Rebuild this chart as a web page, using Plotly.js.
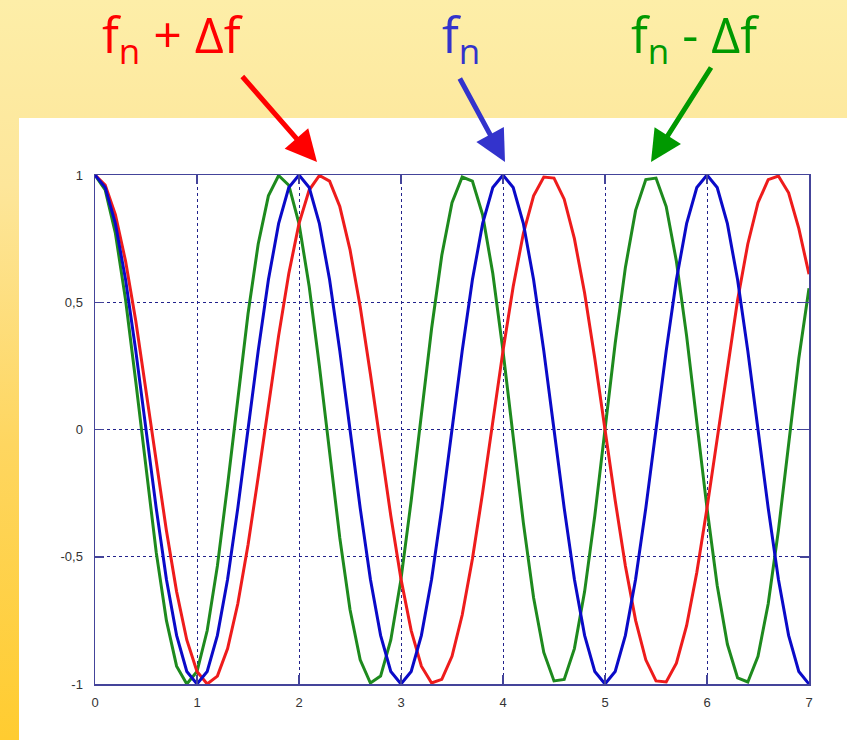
<!DOCTYPE html>
<html>
<head>
<meta charset="utf-8">
<script src="https://cdn.plot.ly/plotly-3.0.1.min.js"></script>
<style>
  html, body { margin: 0; padding: 0; }
  body {
    width: 847px; height: 740px; overflow: hidden;
    background: linear-gradient(to bottom, #fdeea8 0%, #fde69a 25%, #fed660 60%, #ffcc30 100%);
  }
  #chart { width: 847px; height: 740px; }
</style>
</head>
<body>
<div id="chart"></div>
<script>
// sample times, step 0.1 from 0 to 7
const tValues = [0.0,0.1,0.2,0.3,0.4,0.5,0.6,0.7,0.8,0.9,1.0,1.1,1.2,1.3,1.4,1.5,1.6,1.7,1.8,1.9,
  2.0,2.1,2.2,2.3,2.4,2.5,2.6,2.7,2.8,2.9,3.0,3.1,3.2,3.3,3.4,3.5,3.6,3.7,3.8,3.9,
  4.0,4.1,4.2,4.3,4.4,4.5,4.6,4.7,4.8,4.9,5.0,5.1,5.2,5.3,5.4,5.5,5.6,5.7,5.8,5.9,
  6.0,6.1,6.2,6.3,6.4,6.5,6.6,6.7,6.8,6.9,7.0];

// f_n
const blueWave = [1,0.951,0.809,0.588,0.309,0,-0.309,-0.588,-0.809,-0.951,-1,-0.951,-0.809,-0.588,-0.309,0,0.309,0.588,0.809,0.951,
  1,0.951,0.809,0.588,0.309,0,-0.309,-0.588,-0.809,-0.951,-1,-0.951,-0.809,-0.588,-0.309,0,0.309,0.588,0.809,0.951,
  1,0.951,0.809,0.588,0.309,0,-0.309,-0.588,-0.809,-0.951,-1,-0.951,-0.809,-0.588,-0.309,0,0.309,0.588,0.809,0.951,
  1,0.951,0.809,0.588,0.309,0,-0.309,-0.588,-0.809,-0.951,-1];

// f_n + Δf
const redWave = [1,0.960,0.844,0.661,0.426,0.156,-0.125,-0.397,-0.637,-0.827,-0.951,-1.000,-0.969,-0.861,-0.685,-0.454,-0.187,0.094,0.368,0.613,
  0.809,0.941,0.998,0.976,0.876,0.707,0.482,0.218,-0.063,-0.339,-0.588,-0.790,-0.930,-0.996,-0.982,-0.891,-0.729,-0.509,-0.249,0.031,
  0.309,0.562,0.771,0.918,0.992,0.988,0.905,0.750,0.536,0.279,0,-0.279,-0.536,-0.750,-0.905,-0.988,-0.992,-0.918,-0.771,-0.562,
  -0.309,-0.031,0.249,0.509,0.729,0.891,0.982,0.996,0.930,0.790,0.610];

// f_n - Δf
const greenWave = [1,0.941,0.771,0.509,0.187,-0.156,-0.482,-0.750,-0.930,-1.000,-0.951,-0.790,-0.536,-0.218,0.125,0.454,0.729,0.918,0.998,0.960,
  0.809,0.562,0.249,-0.094,-0.426,-0.707,-0.905,-0.996,-0.969,-0.827,-0.588,-0.279,0.063,0.397,0.685,0.891,0.992,0.976,0.844,0.613,
  0.309,-0.031,-0.368,-0.661,-0.876,-0.988,-0.982,-0.861,-0.637,-0.339,0,0.339,0.637,0.861,0.982,0.988,0.876,0.661,0.368,0.031,
  -0.309,-0.613,-0.844,-0.976,-0.992,-0.891,-0.685,-0.397,-0.063,0.279,0.555];

const xTicks = [0,1,2,3,4,5,6,7];
const yTicks = [-1,-0.5,0,0.5,1];
const yTickText = ['-1','-0,5','0','0,5','1'];

const waveColors = { blue: '#0a0ac8', red: '#ee1c1c', green: '#1e8a1e' };

const traces = [
  { x: tValues, y: greenWave, mode: 'lines', line: { color: waveColors.green, width: 3 }, hoverinfo: 'skip' },
  { x: tValues, y: redWave, mode: 'lines', line: { color: waveColors.red, width: 3 }, hoverinfo: 'skip' },
  { x: tValues, y: blueWave, mode: 'lines', line: { color: waveColors.blue, width: 3 }, hoverinfo: 'skip' }
];

// plot area spans 95..809 px horizontally and 175..684 px vertically
const L = 95, R = 809, T = 175, B = 684;
const px = v => (v - L) / (R - L);
const py = v => (B - v) / (B - T);

const labelFont = { family: 'Open Sans, sans-serif', size: 50 };

const axisCommon = {
  showline: true, mirror: 'ticks', linecolor: '#44449a', linewidth: 1.5,
  ticks: 'inside', ticklen: 9, tickcolor: '#44449a', tickwidth: 1.5,
  showgrid: true, gridcolor: '#22228c', gridwidth: 1, griddash: '3px,3px',
  zeroline: false, fixedrange: true,
  tickfont: { family: 'Liberation Sans, Arial, sans-serif', size: 13, color: '#333333' }
};

const arrowBase = { xref: 'paper', yref: 'paper', text: '', showarrow: true,
  arrowhead: 2, arrowsize: 1.25, arrowwidth: 5, standoff: 0 };

const layout = {
  width: 847, height: 740,
  margin: { l: L, r: 847 - R, t: T, b: 740 - B, pad: 0 },
  paper_bgcolor: 'rgba(0,0,0,0)',
  plot_bgcolor: '#ffffff',
  showlegend: false,
  xaxis: Object.assign({}, axisCommon, {
    range: [0, 7], tickvals: xTicks, ticktext: xTicks.map(String), ticklabelstandoff: 6
  }),
  yaxis: Object.assign({}, axisCommon, {
    range: [-1, 1], tickvals: yTicks, ticktext: yTickText, ticklabelstandoff: 8
  }),
  shapes: [
    { type: 'rect', xref: 'paper', yref: 'paper', layer: 'below',
      x0: px(19), x1: px(847), y0: py(740), y1: py(118),
      fillcolor: '#ffffff', line: { width: 0 } }
  ],
  annotations: [
    { xref: 'paper', yref: 'paper', x: px(100), y: py(-2), xanchor: 'left', yanchor: 'top',
      text: 'f<sub>n</sub> + Δf', showarrow: false, font: Object.assign({}, labelFont, { color: '#ff0000' }) },
    { xref: 'paper', yref: 'paper', x: px(440), y: py(-2), xanchor: 'left', yanchor: 'top',
      text: 'f<sub>n</sub>', showarrow: false, font: Object.assign({}, labelFont, { color: '#3333cc' }) },
    { xref: 'paper', yref: 'paper', x: px(629), y: py(-2), xanchor: 'left', yanchor: 'top',
      text: 'f<sub>n</sub> - Δf', showarrow: false, font: Object.assign({}, labelFont, { color: '#009900' }) },
    Object.assign({}, arrowBase, { x: px(317), y: py(162), ax: -76, ay: -87, arrowcolor: '#ff0000' }),
    Object.assign({}, arrowBase, { x: px(505), y: py(162), ax: -46, ay: -85, arrowcolor: '#3333cc' }),
    Object.assign({}, arrowBase, { x: px(651), y: py(162), ax: 61, ay: -96, arrowcolor: '#009900' })
  ]
};

Plotly.newPlot('chart', traces, layout, { displayModeBar: false, staticPlot: true });
</script>
</body>
</html>
